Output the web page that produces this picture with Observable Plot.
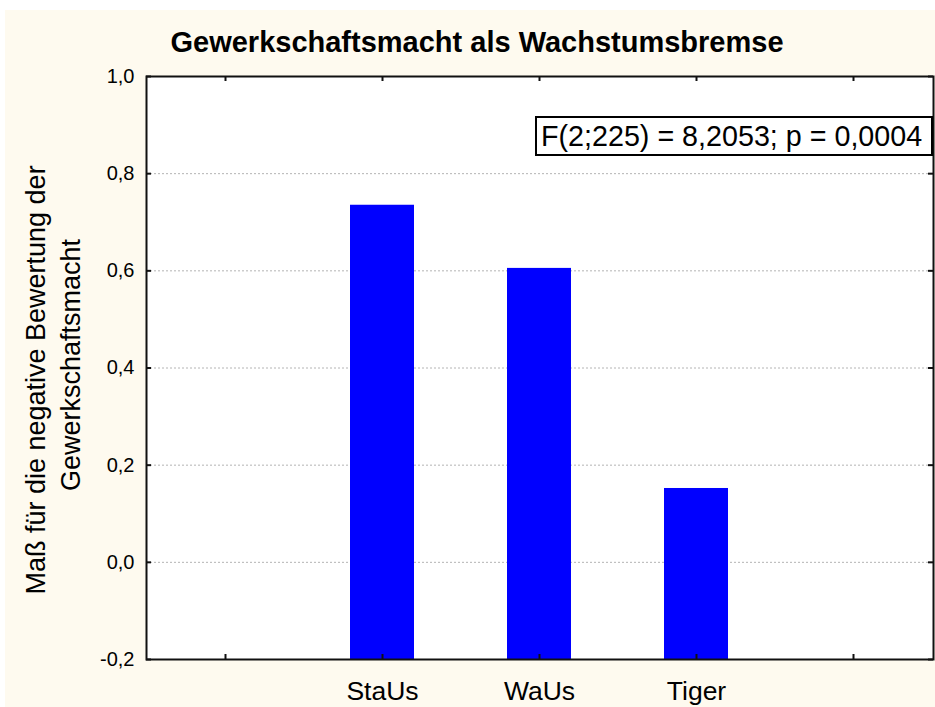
<!DOCTYPE html>
<html>
<head>
<meta charset="utf-8">
<script src="https://cdn.jsdelivr.net/npm/d3@7"></script>
<script src="https://cdn.jsdelivr.net/npm/@observablehq/plot@0.6"></script>
<style>
  html, body { margin: 0; padding: 0; background: #ffffff; }
  #wrap { position: relative; width: 935px; height: 707px; overflow: hidden; font-family: "Liberation Sans", Arial, sans-serif; }
  #bg { position: absolute; left: 5px; top: 10px; right: 0; bottom: 0; background: #fefaef; }
  #chart { position: absolute; left: 0; top: 0; }
  #title { position: absolute; left: 0; width: 954px; top: 28px; text-align: center; font-weight: bold; font-size: 29px; line-height: 28px; color: #000; white-space: nowrap; }
  #note { position: absolute; left: 535px; top: 116px; width: 390px; height: 36px; border: 2px solid #000; background: #fff;
          font-size: 28.7px; line-height: 36px; padding-left: 4px; color: #000; white-space: nowrap; box-sizing: content-box; }
</style>
</head>
<body>
<div id="wrap">
  <div id="bg"></div>
  <div id="chart"></div>
  <div id="title">Gewerkschaftsmacht als Wachstumsbremse</div>
  <div id="note">F(2;225) = 8,2053; p = 0,0004</div>
</div>
<script>
// ---- data ----
const categories = ["StaUs", "WaUs", "Tiger"];
const values = [0.735, 0.605, 0.152];
const xDomain = ["", ...categories, " "];           // empty slots at both ends
const yDomain = [-0.2, 1.0];
const yTicks = [-0.2, 0.0, 0.2, 0.4, 0.6, 0.8, 1.0];
const gridTicks = [0.0, 0.2, 0.4, 0.6, 0.8];
const yLabelLines = ["Maß für die negative Bewertung der", "Gewerkschaftsmacht"];

const data = categories.map((c, i) => ({cat: c, value: values[i]}));
const fmt = d => d3.format(".1f")(d).replace(".", ",").replace("−", "-");

const W = 935, H = 707, mL = 146, mR = 2, mT = 76, mB = 48;
const plotW = W - mL - mR, plotH = H - mT - mB;
const tickLen = 5;
const ink = "#111";

const chart = Plot.plot({
  width: W, height: H,
  marginLeft: mL, marginRight: mR, marginTop: mT, marginBottom: mB,
  style: {background: "transparent", fontFamily: "'Liberation Sans', Arial, sans-serif", color: "#000"},
  x: {domain: xDomain, paddingInner: 0.59, paddingOuter: 0.295},
  y: {domain: yDomain},
  marks: [
    Plot.frame({fill: "#ffffff", stroke: null}),
    Plot.ruleY(gridTicks, {y: d => d, stroke: "#b4b4b4", strokeDasharray: "2,2", strokeWidth: 1}),
    Plot.barY(data, {x: "cat", y1: () => yDomain[0], y2: "value", fill: "#0000ff"}),
    // inward tick marks
    Plot.tickY(yTicks, {y: d => d, insetRight: plotW - tickLen, stroke: ink, strokeWidth: 2}),
    Plot.tickY(yTicks, {y: d => d, insetLeft: plotW - tickLen, stroke: ink, strokeWidth: 2}),
    Plot.tickX(xDomain, {x: d => d, insetTop: plotH - tickLen, stroke: ink, strokeWidth: 2}),
    Plot.tickX(xDomain, {x: d => d, insetBottom: plotH - tickLen, stroke: ink, strokeWidth: 2}),
    Plot.axisY({ticks: yTicks, tickSize: 0, tickPadding: 12, tickFormat: fmt, fontSize: 20, label: null}),
    Plot.axisX({tickSize: 0, tickPadding: 22, tickFormat: d => d.trim(), fontSize: 26.5, label: null}),
    Plot.frame({stroke: ink, strokeWidth: 2}),
    Plot.text([yLabelLines[0]], {text: d => d, frameAnchor: "left", textAnchor: "middle", lineAnchor: "middle", rotate: -90, dx: -110, dy: 12, fontSize: 27}),
    Plot.text([yLabelLines[1]], {text: d => d, frameAnchor: "left", textAnchor: "middle", lineAnchor: "middle", rotate: -90, dx: -75, dy: -3, fontSize: 27})
  ]
});
document.getElementById("chart").appendChild(chart);
</script>
</body>
</html>
